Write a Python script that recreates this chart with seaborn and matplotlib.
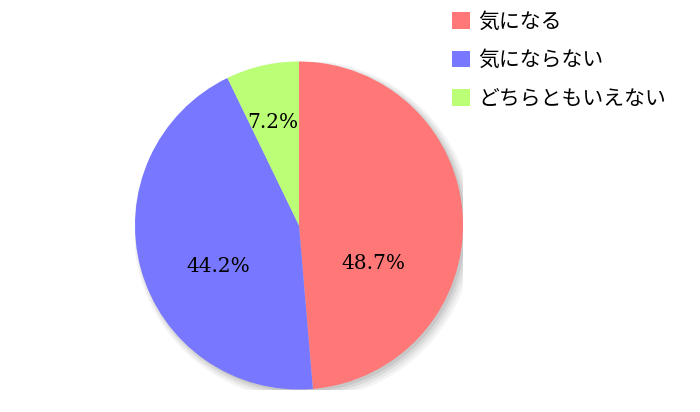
import matplotlib
matplotlib.use("Agg")
import matplotlib.pyplot as plt
import matplotlib.patches as mpatches
import seaborn as sns

categories = ["気になる", "気にならない", "どちらともいえない"]
values = [48.7, 44.2, 7.2]
colors = ["#FF7777", "#7777FF", "#BBFF77"]

sns.set_theme(style="white")
plt.rcParams['font.family'] = ['Noto Sans CJK JP', 'DejaVu Sans']

fig = plt.figure(figsize=(7.0, 4.12), dpi=100)
W, H = 700, 412
cx, cy, r = 299, 225.5, 164
ax = fig.add_axes([(cx - r) / W, (H - cy - r) / H, 2 * r / W, 2 * r / H])
ax.set_xlim(-1, 1)
ax.set_ylim(-1, 1)
ax.set_aspect('equal')
ax.axis('off')

# soft shadow toward lower right
for i, a in enumerate([0.05, 0.06, 0.08, 0.10]):
    off = 0.028 - i * 0.004
    ax.add_patch(mpatches.Circle((off, -off), 1.0 + 0.012 * (3 - i),
                                 color='#333333', alpha=a, lw=0, zorder=0))

wedges, texts, autotexts = ax.pie(
    values, colors=colors, startangle=90, counterclock=False,
    radius=1.0, autopct='%.1f%%', wedgeprops=dict(linewidth=0),
    textprops=dict(fontsize=14.5, family=['DejaVu Serif'], color='black'))
for w in wedges:
    w.set_zorder(2)
label_pos = [(0.451, -0.232), (-0.494, -0.25), (-0.159, 0.628)]
for t, p in zip(autotexts, label_pos):
    t.set_position(p)
    t.set_zorder(3)
    t.set_ha('center')
    t.set_va('center')
ax.set_xlim(-1, 1)
ax.set_ylim(-1, 1)

fig.legend(wedges, categories, loc='upper left',
           bbox_to_anchor=(452 / W, 1 - 11 / H), frameon=False,
           fontsize=15, labelcolor='black',
           handlelength=0.87, handleheight=0.87,
           handletextpad=0.38, labelspacing=0.78, borderpad=0.0,
           borderaxespad=0.0)

fig.savefig("out.png", dpi=100, facecolor='white')
